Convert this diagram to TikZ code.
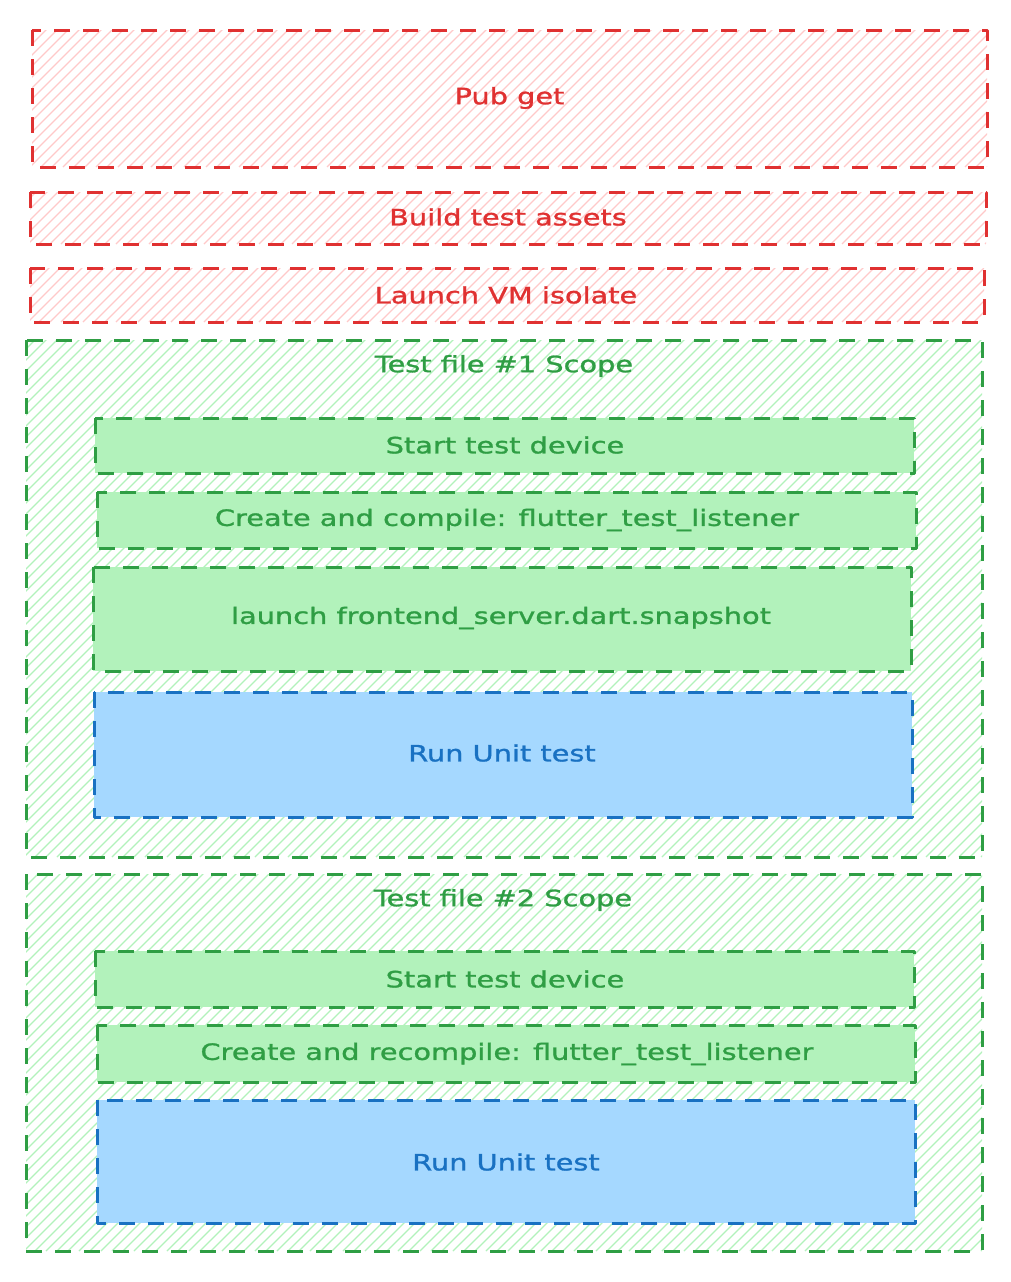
\documentclass[tikz,border=0pt]{standalone}
\usepackage{fontspec}
\setmainfont[FakeStretch=1.28,FakeBold=1.2]{DejaVu Sans}
\definecolor{rstroke}{HTML}{E03131}
\definecolor{rhatch}{HTML}{FFC9C9}
\definecolor{gstroke}{HTML}{2F9E44}
\definecolor{gfill}{HTML}{B2F2BB}
\definecolor{ghatch}{HTML}{B2F2BB}
\definecolor{bstroke}{HTML}{1971C2}
\definecolor{bfill}{HTML}{A5D8FF}
\tikzset{
  sketch/.style={line width=3pt, dash pattern=on 16pt off 13pt, line join=round},
  hatch/.style={path picture={
      \foreach \k in {-1300,-1289,...,1000}
        \draw[#1, line width=1.3pt, solid]
          ([xshift=\k pt]path picture bounding box.south west) -- ++(1300pt,1300pt);}},
  redbox/.style={sketch, draw=rstroke, hatch=rhatch},
  scopebox/.style={sketch, draw=gstroke, hatch=ghatch},
  greenbox/.style={sketch, draw=gstroke, fill=gfill},
  bluebox/.style={sketch, draw=bstroke, fill=bfill},
  lbl/.style={font=\fontsize{22.5}{26}\selectfont, inner sep=0pt},
}
\begin{document}
\begin{tikzpicture}[x=1pt,y=-1pt]
\useasboundingbox[fill=white] (0,0) rectangle (1010,1282);
% red boxes
\draw[redbox] (32,30) rectangle (987,167);
\node[lbl, text=rstroke] (pub) at (509.5,98) {Pub get};
\draw[redbox] (30,192) rectangle (986,244);
\node[lbl, text=rstroke] (build) at (508,217) {Build test assets};
\draw[redbox] (30,268) rectangle (984,322);
\node[lbl, text=rstroke] (launchvm) at (506,295) {Launch VM isolate};
% scope 1
\draw[scopebox] (26,340) rectangle (982,857);
\node[lbl, text=gstroke] (scope1) at (504,366) {Test file \#1 Scope};
\draw[greenbox] (95,418) rectangle (914,473);
\node[lbl, text=gstroke] (start1) at (505,445) {Start test device};
\draw[greenbox] (97,492) rectangle (916,548);
\node[lbl, text=gstroke] (create1) at (507,520) {Create and compile: flutter\_test\_listener};
\draw[greenbox] (93,567) rectangle (911,671);
\node[lbl, text=gstroke] (front) at (501,618) {launch frontend\_server.dart.snapshot};
\draw[bluebox] (94,692) rectangle (912,817);
\node[lbl, text=bstroke] (run1) at (502,753) {Run Unit test};
% scope 2
\draw[scopebox] (26,874) rectangle (982,1251);
\node[lbl, text=gstroke] (scope2) at (503,900) {Test file \#2 Scope};
\draw[greenbox] (95,951) rectangle (914,1007);
\node[lbl, text=gstroke] (start2) at (505,979) {Start test device};
\draw[greenbox] (97,1025) rectangle (915,1082);
\node[lbl, text=gstroke] (create2) at (507,1054) {Create and recompile: flutter\_test\_listener};
\draw[bluebox] (97,1100) rectangle (915,1223);
\node[lbl, text=bstroke] (run2) at (506,1162) {Run Unit test};
\end{tikzpicture}
\end{document}
